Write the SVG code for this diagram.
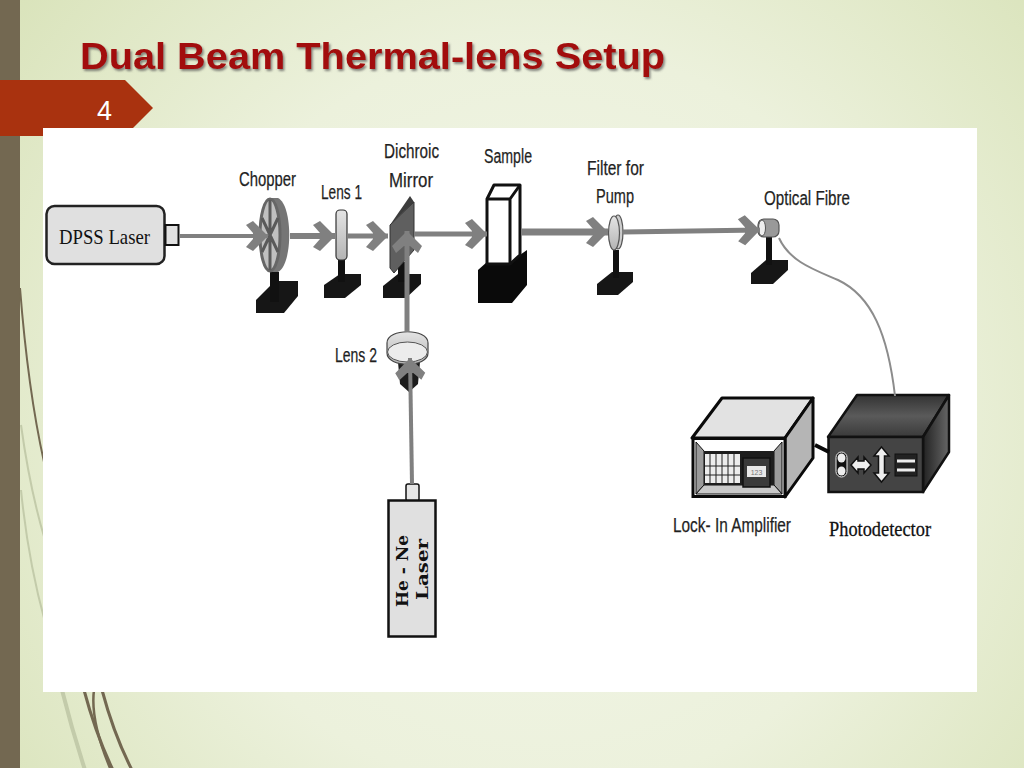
<svg xmlns="http://www.w3.org/2000/svg" width="1024" height="768" viewBox="0 0 1024 768">
<style>
.cal{font-family:"Liberation Sans",Arial,sans-serif;font-size:20px;fill:#1f1f1f;stroke:#1f1f1f;stroke-width:0.25}
.ser{font-family:"Liberation Serif","Times New Roman",serif;fill:#111}
.beam{fill:none;stroke:#808080;marker-end:url(#head)}
.base{fill:#161616}
.post{fill:#111}
.wisp{fill:none;stroke:#736851}
.wisp2{fill:none;stroke:#c3cbaa}
</style>
<defs>
<radialGradient id="bg" gradientUnits="userSpaceOnUse" cx="540" cy="420" r="680">
<stop offset="0" stop-color="#f3f7ea"/><stop offset="0.55" stop-color="#ecf1dc"/><stop offset="1" stop-color="#d9e3ba"/>
</radialGradient>
<linearGradient id="pdTop" x1="0" y1="0" x2="0" y2="1"><stop offset="0" stop-color="#333"/><stop offset="0.5" stop-color="#5a5a5a"/><stop offset="1" stop-color="#3a3a3a"/></linearGradient>
<linearGradient id="pdSide" x1="0" y1="0" x2="1" y2="0"><stop offset="0" stop-color="#222"/><stop offset="1" stop-color="#666"/></linearGradient>
<linearGradient id="lensG" x1="0" y1="0" x2="0" y2="1"><stop offset="0" stop-color="#e4e4e4"/><stop offset="1" stop-color="#b4b4b4"/></linearGradient>
<filter id="shadow" x="-5%" y="-20%" width="110%" height="150%"><feDropShadow dx="1.5" dy="2" stdDeviation="1.2" flood-color="#555" flood-opacity="0.7"/></filter>
<marker id="head" markerUnits="userSpaceOnUse" markerWidth="24" markerHeight="34" refX="22" refY="15" orient="auto" overflow="visible">
<path d="M0,4 L7,0 L22,15 L7,30 L0,26 L7,18 V12 Z" fill="#808080"/>
</marker>
</defs>

<g id="background">
<rect width="1024" height="768" fill="url(#bg)"/>
<rect width="20" height="768" fill="#736851"/>
<path class="wisp2" stroke-width="2" d="M21,425 Q30,490 45,540"/>
<path class="wisp2" stroke-width="2" d="M21,490 Q28,560 45,622"/>
<path class="wisp" stroke-width="2" d="M20,288 Q28,390 44,462"/>
<path class="wisp2" stroke-width="4" d="M62,690 Q72,730 85,770"/>
<path class="wisp" stroke-width="3" d="M84,690 Q96,735 113,770"/>
<path class="wisp" stroke-width="2.500" d="M94,690 Q90,720 110,768"/>
<path class="wisp" stroke-width="3" d="M102,690 Q114,735 132,770"/>
<path d="M0,80 H125 L153,108 L125,136 H0 Z" fill="#a9320f"/>
<rect x="43" y="128" width="934" height="564" fill="#fff"/>
</g>

<g id="title"><text x="80" y="69" font-family="'Liberation Sans',Arial,sans-serif" font-weight="700" font-size="37.500" fill="#a20a0a" filter="url(#shadow)" textLength="585" lengthAdjust="spacingAndGlyphs">Dual Beam Thermal-lens Setup</text></g>
<g id="slide-number"><text x="97" y="120" font-family="'Liberation Sans',sans-serif" font-size="27" fill="#fff">4</text></g>

<g id="dpss-laser">
<rect x="46.500" y="206" width="118" height="58" rx="8" fill="#e0e0e0" stroke="#222" stroke-width="2.500"/>
<rect x="165.500" y="225" width="13" height="20" fill="#e0e0e0" stroke="#111" stroke-width="2"/>
<text class="ser" x="59" y="244" font-size="22" textLength="91" lengthAdjust="spacingAndGlyphs">DPSS Laser</text>
</g>

<g id="chopper">
<text class="cal" x="239" y="186" textLength="57" lengthAdjust="spacingAndGlyphs">Chopper</text>
<path class="base" d="M275,281 H298 V296 L284,313 H256 V300 Z"/>
<rect class="post" x="270" y="272" width="9" height="30"/>
<path d="M270,198 H278 C293,205 293,265 278,272 H270 Z" fill="#757575"/>
<ellipse cx="270" cy="235" rx="10" ry="36" fill="#c0c0c0" stroke="#666" stroke-width="3"/>
<path d="M270,200 V270 M262,218 L278,252 M262,252 L278,218" stroke="#5a5a5a" stroke-width="3" fill="none"/>
</g>

<g id="lens-1">
<text class="cal" x="321" y="199" textLength="41" lengthAdjust="spacingAndGlyphs">Lens 1</text>
<path class="base" d="M340,274 H361 V285 L345,298 H324 V285 Z"/>
<rect class="post" x="338" y="258" width="7" height="24"/>
<rect x="336" y="210" width="11" height="50" rx="4" fill="url(#lensG)" stroke="#333" stroke-width="1.200"/>
</g>

<g id="dichroic-mirror">
<text class="cal" x="384" y="158" textLength="55" lengthAdjust="spacingAndGlyphs">Dichroic</text>
<text class="cal" x="389" y="187" textLength="44" lengthAdjust="spacingAndGlyphs">Mirror</text>
<path class="base" d="M398,274 H421 V284 L406,298 H383 V286 Z"/>
<rect class="post" x="398" y="262" width="7" height="20"/>
<path d="M390,225 L414,202 V250 L394,273 L390,268 Z" fill="#5f5f5f" stroke="#333" stroke-width="1"/>
<path d="M390,225 L410,196 L414,202 Z" fill="#3c3c3c"/>
</g>

<g id="lens-2">
<text class="cal" x="335" y="362" textLength="42" lengthAdjust="spacingAndGlyphs">Lens 2</text>
<path d="M398,362 H420 L418,384 L409,392 L400,384 Z" fill="#1c1c1c"/>
<path d="M387,343 C387,328 428,328 428,343 V353 C428,368 387,368 387,353 Z" fill="url(#lensG)" stroke="#444" stroke-width="1.200"/>
<ellipse cx="407.500" cy="352" rx="20" ry="10" fill="#ececec" stroke="#555" stroke-width="1"/>
</g>

<g id="he-ne-laser">
<rect x="406" y="484" width="13" height="17" rx="2" fill="#e6e6e6" stroke="#111" stroke-width="1.500"/>
<rect x="388.500" y="500.500" width="47" height="136" fill="#e0e0e0" stroke="#111" stroke-width="2.500"/>
<text class="ser" transform="translate(408,607) rotate(-90)" font-size="17" font-weight="700" textLength="72" lengthAdjust="spacing" style="font-family:'DejaVu Serif','Liberation Serif',serif">He - Ne</text>
<text class="ser" transform="translate(428,600) rotate(-90)" font-size="17" font-weight="700" textLength="61" lengthAdjust="spacingAndGlyphs" style="font-family:'DejaVu Serif','Liberation Serif',serif">Laser</text>
</g>

<g id="sample">
<text class="cal" x="484" y="163" textLength="48" lengthAdjust="spacingAndGlyphs">Sample</text>
<path d="M478,270 L487,262 H510 L527,250 V285 L512,303 H478 Z" fill="#0a0a0a"/>
<path d="M494,185 H520 V255 L510,264 H487 V199 Z" fill="#fff" stroke="#111" stroke-width="3" stroke-linejoin="round"/>
<path d="M487,199 H510 V264 M510,199 L520,185" fill="none" stroke="#111" stroke-width="3"/>
</g>

<g id="filter-for-pump">
<text class="cal" x="587" y="175" textLength="57" lengthAdjust="spacingAndGlyphs">Filter for</text>
<text class="cal" x="596" y="203" textLength="38" lengthAdjust="spacingAndGlyphs">Pump</text>
<path class="base" d="M612,272 H633 V282 L618,295 H597 V284 Z"/>
<rect class="post" x="613" y="250" width="6" height="28"/>
<ellipse cx="618" cy="232" rx="5" ry="17" fill="#ccc" stroke="#555" stroke-width="1.200"/>
<ellipse cx="614" cy="233" rx="5.500" ry="17" fill="url(#lensG)" stroke="#555" stroke-width="1.200"/>
</g>

<g id="optical-fibre">
<text class="cal" x="764" y="205" textLength="86" lengthAdjust="spacingAndGlyphs">Optical Fibre</text>
<path class="base" d="M766,260 H788 V270 L773,284 H751 V273 Z"/>
<rect class="post" x="766" y="237" width="6" height="28"/>
<rect x="758" y="219" width="21" height="18" rx="6" fill="#999" stroke="#555" stroke-width="1.200"/>
<ellipse cx="762" cy="228" rx="3.500" ry="8" fill="#eee" stroke="#555" stroke-width="1"/>
</g>

<g id="lock-in-amplifier">
<text class="cal" x="673" y="532" textLength="118" lengthAdjust="spacingAndGlyphs">Lock- In Amplifier</text>
<path d="M692,438 L722,398 H813 L785,438 Z" fill="#e2e2e2" stroke="#0a0a0a" stroke-width="3" stroke-linejoin="round"/>
<path d="M785,438 L813,398 V458 L785,497 Z" fill="#b5b5b5" stroke="#0a0a0a" stroke-width="3" stroke-linejoin="round"/>
<rect x="693" y="438.500" width="92" height="58" fill="#fff" stroke="#0a0a0a" stroke-width="3"/>
<path d="M696,442 L704,451 V485 L696,494 Z M782,442 L774,451 V485 L782,494 Z" fill="#9a9a9a" stroke="#111" stroke-width="1"/>
<path d="M704,485 H774 L782,494 H696 Z" fill="#c9c9c9" stroke="#111" stroke-width="1"/>
<rect x="704" y="451" width="70" height="34" fill="#1d1d1d"/>
<rect x="705" y="454" width="35" height="29" fill="#ededed"/>
<path d="M710,454 V483 M716,454 V483 M722,454 V483 M728,454 V483 M734,454 V483 M705,466 H740 M705,475 H740" stroke="#222" stroke-width="1" fill="none"/>
<rect x="743" y="458" width="27" height="29" fill="#3a3a3a" stroke="#111" stroke-width="1.500"/>
<rect x="747" y="466" width="19" height="11" fill="#e8e8e8"/>
<text x="756.500" y="474.500" text-anchor="middle" font-family="'Liberation Sans',sans-serif" font-size="7" fill="#777">123</text>
</g>

<g id="photodetector">
<text class="ser" x="829" y="536" font-size="22" textLength="102" lengthAdjust="spacingAndGlyphs" stroke="#111" stroke-width="0.300">Photodetector</text>
<path d="M828,437 L857,395 H949 L923,437 Z" fill="url(#pdTop)" stroke="#111" stroke-width="2.500" stroke-linejoin="round"/>
<path d="M923,437 L949,395 V452 L923,492 Z" fill="url(#pdSide)" stroke="#111" stroke-width="2.500" stroke-linejoin="round"/>
<rect x="828.500" y="437" width="94.500" height="55" fill="#444" stroke="#111" stroke-width="2.500"/>
<rect x="836" y="452" width="11" height="25" rx="5.500" fill="#111" stroke="#eee" stroke-width="1"/>
<ellipse cx="841.500" cy="458" rx="4" ry="4.500" fill="#eee"/>
<ellipse cx="841.500" cy="471" rx="4" ry="4.500" fill="#eee"/>
<path d="M851,465 L858,457 V461 H864 V457 L871,465 L864,473 V469 H858 V473 Z" fill="#eee" stroke="#111" stroke-width="1.500"/>
<path d="M881.500,447 L889,456 H884.500 V473 H889 L881.500,482 L874,473 H878.500 V456 H874 Z" fill="#eee" stroke="#111" stroke-width="1.500"/>
<rect x="895" y="454" width="22" height="22" fill="#222" stroke="#111" stroke-width="1"/>
<path d="M897,461 H915 M897,470 H915" stroke="#eee" stroke-width="3"/>
</g>

<g id="connectors">
<path class="beam" stroke-width="4" d="M179,236 H268"/>
<path class="beam" stroke-width="6" d="M290,236 H335"/>
<path class="beam" stroke-width="5" d="M347,236 H388"/>
<path class="beam" stroke-width="5" d="M414,234 H487"/>
<path class="beam" stroke-width="7" d="M521,232 H608"/>
<path class="beam" stroke-width="5" d="M623,232 L760,230"/>
<path class="beam" stroke-width="5" d="M407,332 V231"/>
<path class="beam" stroke-width="4" d="M412,484 L410,358"/>
<path d="M779,238 C790,262 815,270 838,280 C872,296 888,335 895,396" fill="none" stroke="#8c8c8c" stroke-width="2"/>
<path d="M815,445 L829,452" fill="none" stroke="#0a0a0a" stroke-width="4"/>
</g>
</svg>
